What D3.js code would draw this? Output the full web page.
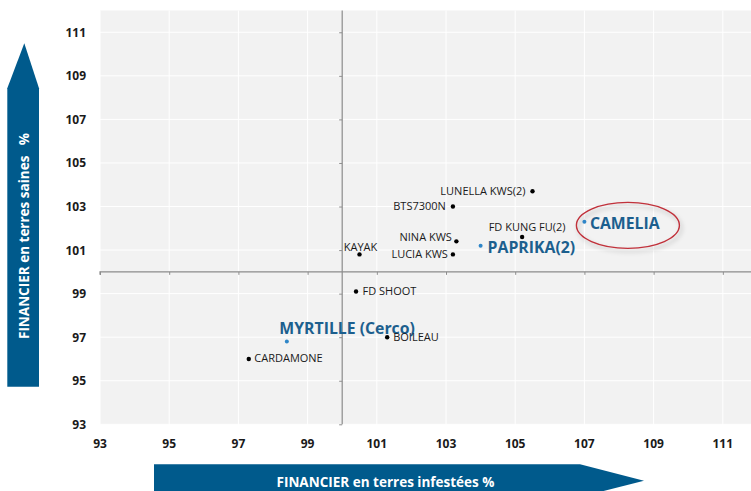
<!DOCTYPE html>
<html lang="fr">
<head>
<meta charset="UTF-8">
<title>FINANCIER - terres saines / terres infestées</title>
<script src="https://d3js.org/d3.v7.min.js"></script>
<style>
    body { margin: 0; background: #fff; overflow: hidden; }
    text { font-family: "Open Sans", sans-serif; }
    .tick-label { font-size: 12px; font-weight: 700; fill: #1a1a1a; }
    .lbl { font-size: 11px; fill: #1a1a1a; }
    .lbl.big { font-size: 15.8px; font-weight: 700; fill: #1c5f8e; }
    .arrow-text { font-size: 13.5px; font-weight: 700; fill: #fff; }
</style>
</head>
<body>
<script>
// varieties
var names = ["LUNELLA KWS(2)", "BTS7300N", "FD KUNG FU(2)", "NINA KWS", "LUCIA KWS", "KAYAK",
             "PAPRIKA(2)", "CAMELIA", "FD SHOOT", "MYRTILLE (Cerco)", "CARDAMONE", "BOILEAU"];
// FINANCIER en terres infestées %
var xVals = [105.5, 103.2, 105.2, 103.3, 103.2, 100.5, 104.0, 107.0, 100.4, 98.4, 97.3, 101.3];
// FINANCIER en terres saines %
var yVals = [103.7, 103.0, 101.6, 101.4, 100.8, 100.8, 101.2, 102.3, 99.1, 96.8, 96.0, 97.0];
// highlighted varieties (blue)
var highlight = ["PAPRIKA(2)", "CAMELIA", "MYRTILLE (Cerco)"];
var circled = "CAMELIA";

var xTicks = [93, 95, 97, 99, 101, 103, 105, 107, 109, 111];
var yTicks = [93, 95, 97, 99, 101, 103, 105, 107, 109, 111];

// label placement (dx, dy, anchor) relative to each dot
var labelPos = {
    "LUNELLA KWS(2)": [-7, 3.5, "end"],
    "BTS7300N": [-7, 3.5, "end"],
    "FD KUNG FU(2)": [5, -6.5, "middle"],
    "NINA KWS": [-4.5, 0, "end"],
    "LUCIA KWS": [-5, 3.5, "end"],
    "KAYAK": [1, -3.5, "middle"],
    "PAPRIKA(2)": [7, 7, "start"],
    "CAMELIA": [5.5, 7, "start"],
    "FD SHOOT": [6.5, 3.5, "start"],
    "MYRTILLE (Cerco)": [-7.5, -8, "start"],
    "CARDAMONE": [5.5, 3.5, "start"],
    "BOILEAU": [6, 3.5, "start"]
};

var W = 751, H = 491;
var svg = d3.select("body").append("svg").attr("width", W).attr("height", H);

var x = d3.scaleLinear().domain([93, 112]).range([100, 757.4]);
var y = d3.scaleLinear().domain([93, 112]).range([424.3, 10.5]);

// plot background
svg.append("rect")
    .attr("x", x(93)).attr("y", y(112))
    .attr("width", x(112) - x(93)).attr("height", y(93) - y(112))
    .attr("fill", "#f2f2f2");

// gridlines
svg.append("g").selectAll("line").data(xTicks).enter().append("line")
    .attr("x1", d => x(d)).attr("x2", d => x(d))
    .attr("y1", y(112)).attr("y2", y(93))
    .attr("stroke", "#fff").attr("stroke-width", 1);
svg.append("g").selectAll("line").data(yTicks).enter().append("line")
    .attr("x1", x(93)).attr("x2", x(112))
    .attr("y1", d => y(d)).attr("y2", d => y(d))
    .attr("stroke", "#fff").attr("stroke-width", 1);

// axes crossing at 100
var xAxis = d3.axisBottom(x).tickValues([93].concat(xTicks)).tickSize(3).tickFormat("");
var yAxis = d3.axisLeft(y).tickValues(yTicks).tickSize(3).tickFormat("");
var gx = svg.append("g").attr("transform", "translate(0," + y(100) + ")").call(xAxis);
var gy = svg.append("g").attr("transform", "translate(" + x(100) + ",0)").call(yAxis);
[gx, gy].forEach(g => {
    g.select(".domain").attr("stroke", "#8c8c8c").attr("stroke-width", 1.2);
    g.selectAll(".tick line").attr("stroke", "#8c8c8c");
});
gx.select(".domain").attr("d", "M" + x(93) + ",3V0H" + x(112));
gy.select(".domain").attr("d", "M0," + y(112) + "V" + y(93));

// tick labels
svg.append("g").selectAll("text").data(yTicks).enter().append("text")
    .attr("class", "tick-label")
    .attr("x", 86).attr("y", d => y(d) + 4.5)
    .attr("text-anchor", "end")
    .text(d => d);
svg.append("g").selectAll("text").data(xTicks).enter().append("text")
    .attr("class", "tick-label")
    .attr("x", d => x(d)).attr("y", 447.5)
    .attr("text-anchor", "middle")
    .text(d => d);

// points
var pts = names.map((n, i) => ({ name: n, x: xVals[i], y: yVals[i], hi: highlight.includes(n) }));

// red ellipse around the circled variety
var cp = pts.find(p => p.name === circled);
var defs = svg.append("defs");
var f = defs.append("filter").attr("id", "shadow").attr("x", "-20%").attr("y", "-30%").attr("width", "150%").attr("height", "170%");
f.append("feDropShadow").attr("dx", 2).attr("dy", 3).attr("stdDeviation", 2).attr("flood-color", "#000").attr("flood-opacity", 0.25);
svg.append("ellipse")
    .attr("cx", x(cp.x) + 43.5).attr("cy", y(cp.y) + 3.6)
    .attr("rx", 51.5).attr("ry", 23)
    .attr("fill", "none").attr("stroke", "#c0303a").attr("stroke-width", 1.4)
    .attr("filter", "url(#shadow)");

svg.append("g").selectAll("circle").data(pts).enter().append("circle")
    .attr("cx", d => x(d.x)).attr("cy", d => y(d.y))
    .attr("r", d => d.hi ? 2 : 2.2)
    .attr("fill", d => d.hi ? "#2f86c8" : "#000");

svg.append("g").selectAll("text").data(pts).enter().append("text")
    .attr("class", d => d.hi ? "lbl big" : "lbl")
    .attr("x", d => x(d.x) + labelPos[d.name][0])
    .attr("y", d => y(d.y) + labelPos[d.name][1])
    .attr("text-anchor", d => labelPos[d.name][2])
    .text(d => d.name);

// y arrow
var blue = "#005a8c";
svg.append("path")
    .attr("d", "M24.3,43.3L39,88.3V386.7H7.3V88.3Z")
    .attr("fill", blue);
svg.append("text")
    .attr("class", "arrow-text")
    .attr("transform", "translate(28.5,236) rotate(-90)")
    .attr("text-anchor", "middle")
    .attr("xml:space", "preserve")
    .text("FINANCIER en terres saines   %");

// x arrow
svg.append("path")
    .attr("d", "M154,464.3H580L644,480.7L580,497H154Z")
    .attr("fill", blue);
svg.append("text")
    .attr("class", "arrow-text")
    .attr("x", 385.5).attr("y", 487)
    .attr("text-anchor", "middle")
    .text("FINANCIER en terres infestées %");
</script>
</body>
</html>
